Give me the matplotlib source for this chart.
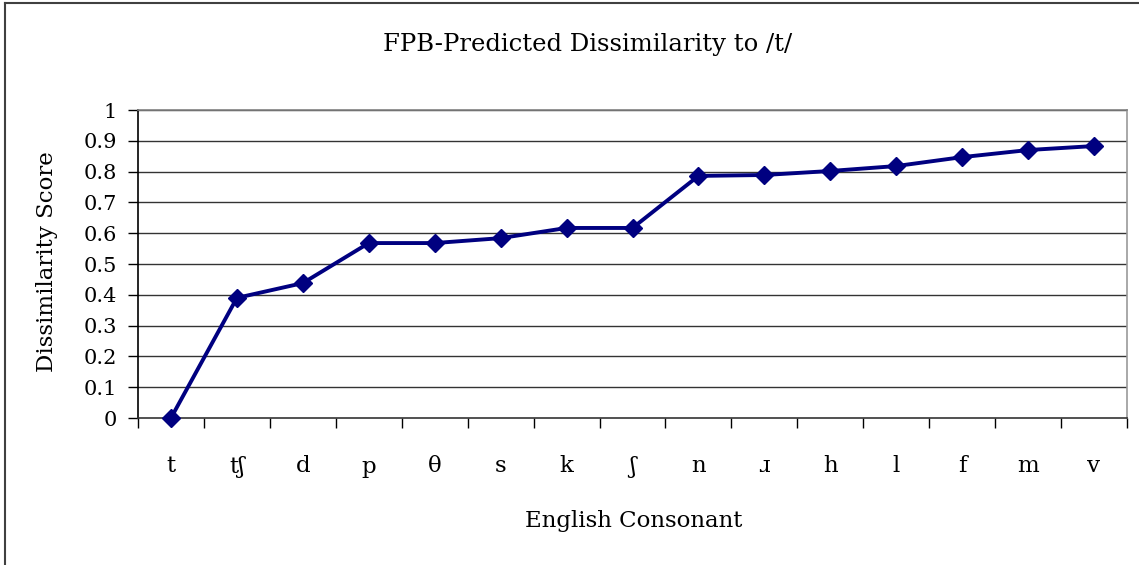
import matplotlib
matplotlib.use("Agg")
import matplotlib.pyplot as plt
from matplotlib.lines import Line2D
import numpy as np

consonants = ["t", "tʃ", "d", "p", "θ", "s", "k", "ʃ", "n", "ɹ", "h", "l", "f", "m", "v"]
scores = [0.0, 0.39, 0.438, 0.568, 0.568, 0.584, 0.617, 0.617, 0.786, 0.789, 0.802, 0.818, 0.847, 0.870, 0.883]
yticks = [0, 0.1, 0.2, 0.3, 0.4, 0.5, 0.6, 0.7, 0.8, 0.9, 1]
ytick_labels = ["0", "0.1", "0.2", "0.3", "0.4", "0.5", "0.6", "0.7", "0.8", "0.9", "1"]

plt.rcParams['font.family'] = ['DejaVu Serif', 'Liberation Serif']

W, H = 1139, 565
fig = plt.figure(figsize=(W / 100, H / 100), dpi=100)
ax = fig.add_axes([138 / W, 1 - 418 / H, (1127 - 138) / W, (418 - 110) / H])

n = len(consonants)
x = np.arange(n)
ax.plot(x, scores, color="#000080", lw=2.8, marker="D", markersize=9.5,
        markerfacecolor="#000080", markeredgecolor="#000080", zorder=5, clip_on=False)

ax.set_xlim(-0.5, n - 0.5)
ax.set_ylim(0, 1)
ax.set_yticks(yticks)
ax.set_yticklabels(ytick_labels, fontsize=15)
for yv in yticks[1:]:
    ax.axhline(yv, color="#333333", lw=1.0, zorder=1)

ax.set_xticks(np.arange(n + 1) - 0.5)
ax.set_xticklabels([])
ax.set_xticks(x, minor=True)
ax.set_xticklabels(consonants, minor=True, fontsize=16.5)
ax.tick_params(axis="x", which="major", direction="out", length=7, width=1, color="black")
ax.tick_params(axis="x", which="minor", length=0, pad=27)
ax.tick_params(axis="y", direction="out", length=7, width=1, color="black", pad=8)

ax.spines["left"].set_color("black")
ax.spines["bottom"].set_color("#333333")
ax.spines["top"].set_color("#808080")
ax.spines["right"].set_color("#999999")
for s in ax.spines.values():
    s.set_linewidth(1.2)

fig.text(588 / W, 1 - 44 / H, "FPB-Predicted Dissimilarity to /t/", fontsize=17.5,
         ha="center", va="center")
fig.text(634 / W, 1 - 521 / H, "English Consonant", fontsize=16.5, ha="center", va="center")
fig.text(47 / W, 1 - 262 / H, "Dissimilarity Score", fontsize=16.5, ha="center", va="center",
         rotation=90)

# outer chart border (left and top visible)
fig.add_artist(Line2D([5 / W, 5 / W], [0, 1 - 3 / H], color="#404040", lw=1.5,
                      transform=fig.transFigure))
fig.add_artist(Line2D([5 / W, 1], [1 - 3 / H, 1 - 3 / H], color="#404040", lw=1.5,
                      transform=fig.transFigure))

fig.savefig("out.png", dpi=100)
